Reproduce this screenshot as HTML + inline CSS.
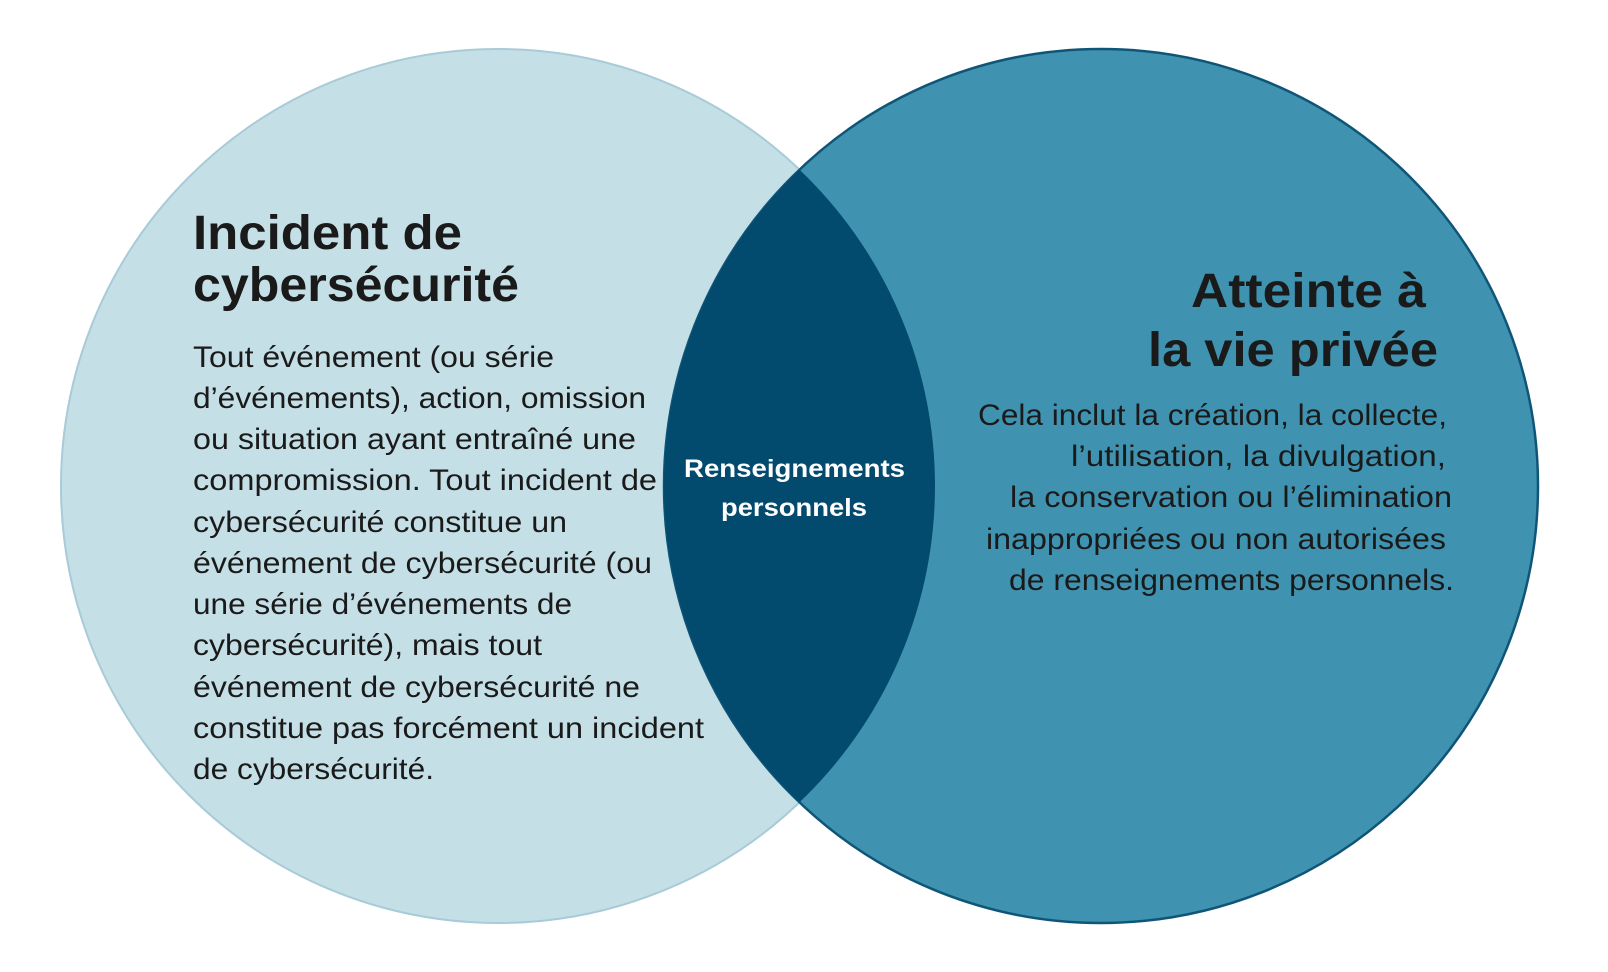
<!DOCTYPE html>
<html><head><meta charset="utf-8"><style>
html,body{margin:0;padding:0;background:#fff;}
svg{display:block;}
text{font-family:"Liberation Sans",sans-serif;}
</style></head><body>
<svg width="1608" height="972" viewBox="0 0 1608 972" xmlns="http://www.w3.org/2000/svg">
<defs>
<clipPath id="cl"><circle cx="498" cy="486" r="437"/></clipPath>
</defs>
<circle cx="498" cy="486" r="437" fill="#c5dfe7" stroke="#a8cbd7" stroke-width="2"/>
<circle cx="1101" cy="486" r="437" fill="#4093b0" stroke="#0f5577" stroke-width="2.5"/>
<circle cx="1101" cy="486" r="437" fill="#034b6e" clip-path="url(#cl)"/>
<g fill="#1a1a1a" font-weight="bold" font-size="48">
<text x="193" y="249" textLength="269" lengthAdjust="spacingAndGlyphs">Incident de</text>
<text x="193" y="301" textLength="326" lengthAdjust="spacingAndGlyphs">cybersécurité</text>
<text x="1191" y="307" textLength="235" lengthAdjust="spacingAndGlyphs">Atteinte à</text>
<text x="1148" y="366" textLength="290" lengthAdjust="spacingAndGlyphs">la vie privée</text>
</g>
<g fill="#1a1a1a" font-size="30">
<text x="193" y="367" textLength="361" lengthAdjust="spacingAndGlyphs">Tout événement (ou série</text>
<text x="193" y="408" textLength="453" lengthAdjust="spacingAndGlyphs">d’événements), action, omission</text>
<text x="193" y="449" textLength="443" lengthAdjust="spacingAndGlyphs">ou situation ayant entraîné une</text>
<text x="193" y="490" textLength="464" lengthAdjust="spacingAndGlyphs">compromission. Tout incident de</text>
<text x="193" y="532" textLength="374" lengthAdjust="spacingAndGlyphs">cybersécurité constitue un</text>
<text x="193" y="573" textLength="459" lengthAdjust="spacingAndGlyphs">événement de cybersécurité (ou</text>
<text x="193" y="614" textLength="379" lengthAdjust="spacingAndGlyphs">une série d’événements de</text>
<text x="193" y="655" textLength="349" lengthAdjust="spacingAndGlyphs">cybersécurité), mais tout</text>
<text x="193" y="697" textLength="447" lengthAdjust="spacingAndGlyphs">événement de cybersécurité ne</text>
<text x="193" y="738" textLength="511" lengthAdjust="spacingAndGlyphs">constitue pas forcément un incident</text>
<text x="193" y="779" textLength="241" lengthAdjust="spacingAndGlyphs">de cybersécurité.</text>
<text x="978" y="425" textLength="469" lengthAdjust="spacingAndGlyphs">Cela inclut la création, la collecte,</text>
<text x="1071" y="466" textLength="375" lengthAdjust="spacingAndGlyphs">l’utilisation, la divulgation,</text>
<text x="1010" y="507" textLength="442" lengthAdjust="spacingAndGlyphs">la conservation ou l’élimination</text>
<text x="986" y="549" textLength="460" lengthAdjust="spacingAndGlyphs">inappropriées ou non autorisées</text>
<text x="1009" y="590" textLength="445" lengthAdjust="spacingAndGlyphs">de renseignements personnels.</text>
</g>
<g fill="#ffffff" font-weight="bold" font-size="25">
<text x="684" y="477" textLength="221" lengthAdjust="spacingAndGlyphs">Renseignements</text>
<text x="721" y="516" textLength="146" lengthAdjust="spacingAndGlyphs">personnels</text>
</g>
</svg>
</body></html>
